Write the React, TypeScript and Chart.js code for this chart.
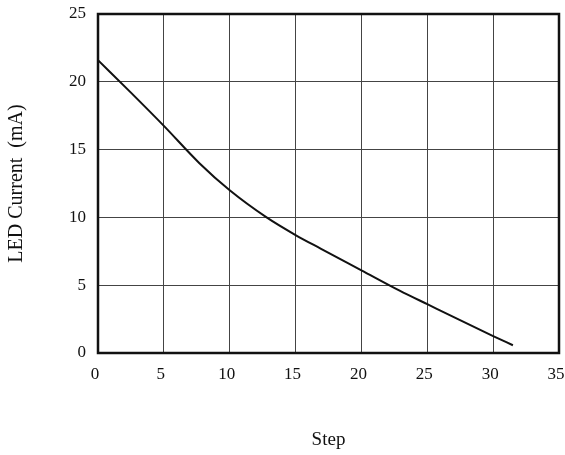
import React, { useEffect, useRef } from "react";
import { Chart, registerables } from "chart.js";

Chart.register(...registerables);

const stepValues = [0, 2.5, 5, 7.7, 10, 12.8, 15, 16.9, 20, 22.9, 25, 30, 31.5];
const currentValues = [21.6, 19.2, 16.75, 14.0, 12.0, 10, 8.7, 7.7, 6.1, 4.6, 3.6, 1.25, 0.57];
const xTitle = "Step";
const yTitle = "LED Current  (mA)";
const xMin = 0, xMax = 35, xStep = 5;
const yMin = 0, yMax = 25, yStep = 5;

const framePlugin = {
  id: "frame",
  afterDraw(chart: any) {
    const { ctx, chartArea } = chart;
    ctx.save();
    ctx.strokeStyle = "#111";
    ctx.lineWidth = 2.5;
    ctx.strokeRect(chartArea.left, chartArea.top, chartArea.right - chartArea.left, chartArea.bottom - chartArea.top);
    ctx.restore();
  },
};

export default function App() {
  const ref = useRef<HTMLCanvasElement>(null);
  useEffect(() => {
    document.body.style.margin = "0";
    const data = stepValues.map((x, i) => ({ x, y: currentValues[i] }));
    const serif = "'Liberation Serif', 'Times New Roman', serif";
    const chart = new Chart(ref.current!, {
      type: "scatter",
      data: {
        datasets: [
          {
            data,
            showLine: true,
            borderColor: "#111",
            borderWidth: 2,
            pointRadius: 0,
            cubicInterpolationMode: "monotone",
            fill: false,
          },
        ],
      },
      options: {
        responsive: false,
        animation: false,
        layout: { padding: { top: 14, right: 6, left: 0, bottom: 0 } },
        plugins: { legend: { display: false }, tooltip: { enabled: false } },
        scales: {
          x: {
            type: "linear",
            min: xMin,
            max: xMax,
            afterFit(scale: any) {
              scale.height = 102;
              scale.paddingLeft = 0;
              scale.paddingRight = 0;
            },
            ticks: { stepSize: xStep, padding: 11, labelOffset: -3, color: "#111", font: { family: serif, size: 17 } },
            grid: { color: "#444", lineWidth: 1, drawTicks: false },
            border: { display: false },
            title: {
              display: true,
              text: xTitle,
              color: "#111",
              font: { family: serif, size: 19 },
              padding: { top: 0, bottom: 4 },
            },
          },
          y: {
            type: "linear",
            min: yMin,
            max: yMax,
            afterFit(scale: any) {
              scale.width = 98;
              scale.paddingTop = 0;
              scale.paddingBottom = 0;
            },
            ticks: { stepSize: yStep, padding: 12, color: "#111", font: { family: serif, size: 17 } },
            grid: { color: "#444", lineWidth: 1, drawTicks: false },
            border: { display: false },
            title: {
              display: true,
              text: yTitle,
              color: "#111",
              font: { family: serif, size: 20 },
              padding: { top: 5, bottom: 0 },
            },
          },
        },
      },
      plugins: [framePlugin],
    } as any);
    return () => chart.destroy();
  }, []);
  return (
    <div style={{ width: 565, height: 455, background: "#fff" }}>
      <canvas ref={ref} width={565} height={455} style={{ display: "block" }} />
    </div>
  );
}
